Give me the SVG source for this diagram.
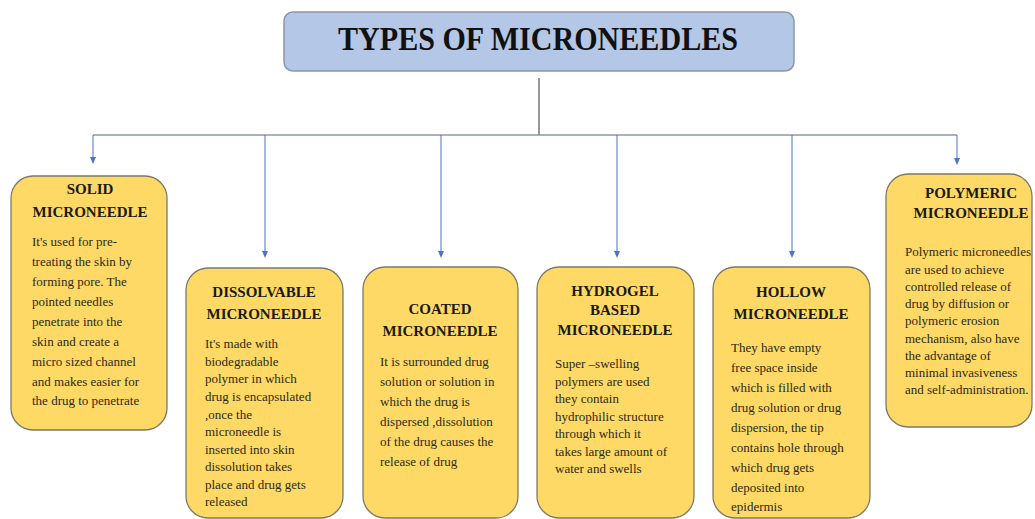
<svg xmlns="http://www.w3.org/2000/svg" width="1035" height="519" viewBox="0 0 1035 519">
<style>
.box{fill:#ffd966;stroke:#7a7a6a;stroke-width:1.3}
.hd{font-family:"Liberation Serif",serif;font-weight:bold;font-size:15px;fill:#1a1a10;text-anchor:middle}
.bd{font-family:"Liberation Serif",serif;font-size:13px;fill:#2a2a18}
.drop{stroke:#4a74c4;stroke-width:1;fill:none}
</style>
<defs>
<marker id="ah" viewBox="0 0 8 8" refX="4" refY="8" markerWidth="7" markerHeight="7" markerUnits="userSpaceOnUse" orient="auto-start-reverse">
<path d="M0,0 L8,0 L4,8 Z" fill="#4a74c4" transform="rotate(-90 4 4)"/>
</marker>
</defs>
<rect width="1035" height="519" fill="#ffffff"/>
<g id="title">
<rect x="284" y="12" width="510" height="59" rx="9" fill="#b4c7e7" stroke="#8a97ab" stroke-width="1.5"/>
<text x="538" y="50" font-family="Liberation Serif,serif" font-weight="bold" font-size="34" fill="#111" text-anchor="middle" textLength="400" lengthAdjust="spacingAndGlyphs">TYPES OF MICRONEEDLES</text>
</g>
<g id="connectors">
<path d="M539,78 V135" stroke="#555" stroke-width="1.2" fill="none"/>
<path d="M93,135 H957" stroke="#8a97ab" stroke-width="1.5" fill="none"/>
<g fill="#4a74c4">
<path class="drop" d="M93,135 V158"/><path d="M90,157 L96,157 L93,164 Z"/>
<path class="drop" d="M265,135 V252"/><path d="M262,251 L268,251 L265,258 Z"/>
<path class="drop" d="M441,135 V252"/><path d="M438,251 L444,251 L441,258 Z"/>
<path class="drop" d="M617,135 V252"/><path d="M614,251 L620,251 L617,258 Z"/>
<path class="drop" d="M792,135 V252"/><path d="M789,251 L795,251 L792,258 Z"/>
<path class="drop" d="M957,135 V159"/><path d="M954,158 L960,158 L957,165 Z"/>
</g>
</g>
<g id="solid">
<rect class="box" x="11" y="176" width="156" height="254" rx="22"/>
<text class="hd" x="90" y="194">SOLID</text>
<text class="hd" x="90" y="217">MICRONEEDLE</text>
<text class="bd" x="32" y="246">It's used for pre-</text>
<text class="bd" x="32" y="266">treating the skin by</text>
<text class="bd" x="32" y="286">forming pore. The</text>
<text class="bd" x="32" y="306">pointed needles</text>
<text class="bd" x="32" y="326">penetrate into the</text>
<text class="bd" x="32" y="346">skin and create a</text>
<text class="bd" x="32" y="366">micro sized channel</text>
<text class="bd" x="32" y="386">and makes easier for</text>
<text class="bd" x="32" y="405">the drug to penetrate</text>
</g>
<g id="dissolvable">
<rect class="box" x="186" y="268" width="157" height="250" rx="22"/>
<text class="hd" x="264" y="297">DISSOLVABLE</text>
<text class="hd" x="264" y="319">MICRONEEDLE</text>
<text class="bd" x="205" y="348">It's made  with</text>
<text class="bd" x="205" y="365.5">biodegradable</text>
<text class="bd" x="205" y="383">polymer in which</text>
<text class="bd" x="205" y="401">drug is encapsulated</text>
<text class="bd" x="205" y="418.5">,once the</text>
<text class="bd" x="205" y="436">microneedle is</text>
<text class="bd" x="205" y="453.5">inserted into skin</text>
<text class="bd" x="205" y="471">dissolution takes</text>
<text class="bd" x="205" y="489">place and drug gets</text>
<text class="bd" x="205" y="506">released</text>
</g>
<g id="coated">
<rect class="box" x="363" y="267" width="155" height="251" rx="22"/>
<text class="hd" x="440" y="314">COATED</text>
<text class="hd" x="440" y="336">MICRONEEDLE</text>
<text class="bd" x="380" y="366">It is surrounded drug</text>
<text class="bd" x="380" y="386">solution or solution in</text>
<text class="bd" x="380" y="406">which the drug is</text>
<text class="bd" x="380" y="426">dispersed ,dissolution</text>
<text class="bd" x="380" y="446">of the drug causes the</text>
<text class="bd" x="380" y="466">release of drug</text>
</g>
<g id="hydrogel">
<rect class="box" x="537" y="267" width="157" height="251" rx="22"/>
<text class="hd" x="615" y="296">HYDROGEL</text>
<text class="hd" x="615" y="315">BASED</text>
<text class="hd" x="615" y="335">MICRONEEDLE</text>
<text class="bd" x="555" y="368">Super –swelling</text>
<text class="bd" x="555" y="386">polymers are used</text>
<text class="bd" x="555" y="403">they contain</text>
<text class="bd" x="555" y="421">hydrophilic structure</text>
<text class="bd" x="555" y="438">through which it</text>
<text class="bd" x="555" y="456">takes large amount of</text>
<text class="bd" x="555" y="473">water and swells</text>
</g>
<g id="hollow">
<rect class="box" x="713" y="267" width="157" height="251" rx="22"/>
<text class="hd" x="791" y="297">HOLLOW</text>
<text class="hd" x="791" y="319">MICRONEEDLE</text>
<text class="bd" x="731" y="352">They have empty</text>
<text class="bd" x="731" y="372">free space inside</text>
<text class="bd" x="731" y="392">which is filled  with</text>
<text class="bd" x="731" y="412">drug solution or drug</text>
<text class="bd" x="731" y="432">dispersion, the tip</text>
<text class="bd" x="731" y="452">contains hole through</text>
<text class="bd" x="731" y="472">which drug gets</text>
<text class="bd" x="731" y="492">deposited into</text>
<text class="bd" x="731" y="511">epidermis</text>
</g>
<g id="polymeric">
<rect class="box" x="886" y="174" width="146" height="253" rx="22"/>
<text class="hd" x="971" y="198">POLYMERIC</text>
<text class="hd" x="971" y="218">MICRONEEDLE</text>
<text class="bd" x="905" y="256">Polymeric microneedles</text>
<text class="bd" x="905" y="274">are used to achieve</text>
<text class="bd" x="905" y="291">controlled release of</text>
<text class="bd" x="905" y="308">drug by diffusion or</text>
<text class="bd" x="905" y="325">polymeric erosion</text>
<text class="bd" x="905" y="343">mechanism, also have</text>
<text class="bd" x="905" y="360">the advantage of</text>
<text class="bd" x="905" y="377">minimal invasiveness</text>
<text class="bd" x="905" y="394">and self-administration.</text>
</g>
</svg>
